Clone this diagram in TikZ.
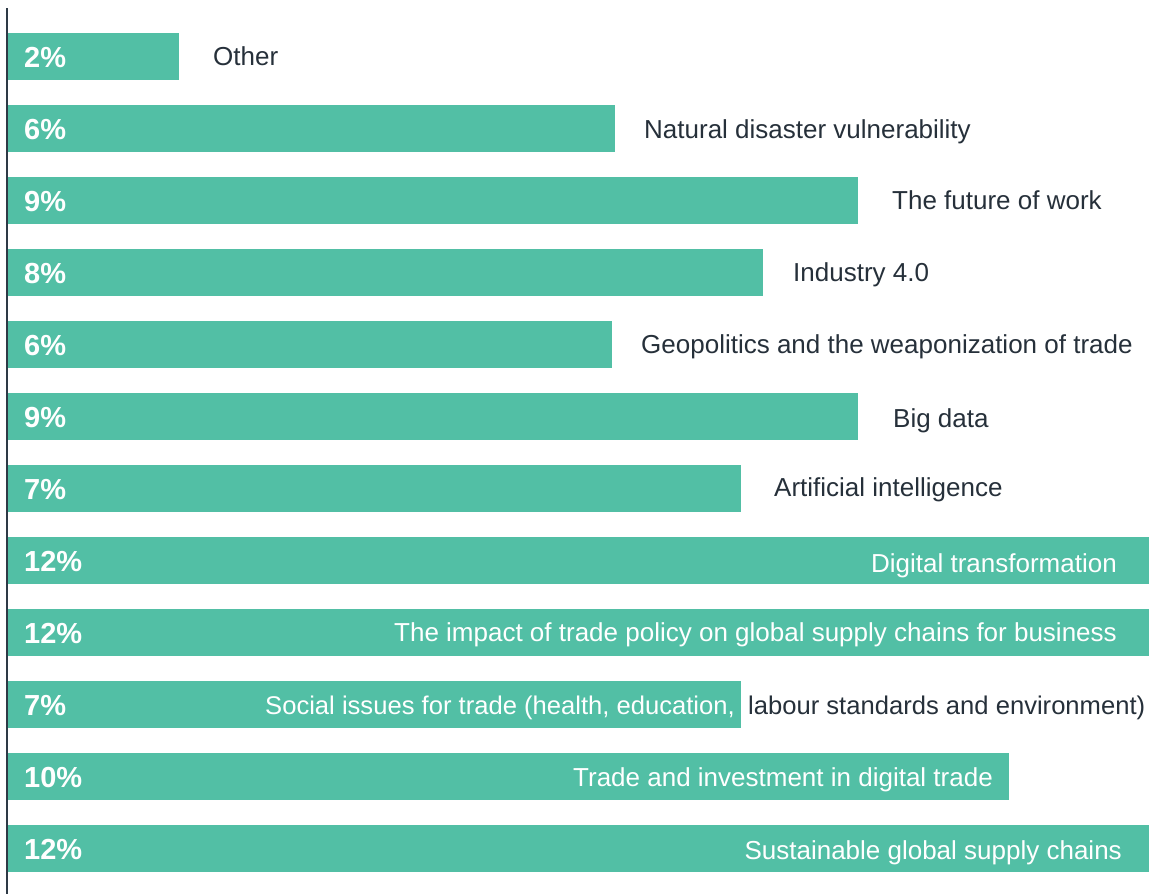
\documentclass[tikz,border=0pt]{standalone}
\usepackage{fontspec}
\setmainfont{Liberation Sans}
\definecolor{barc}{HTML}{52BFA5}
\definecolor{txt}{HTML}{26303A}
\definecolor{axisc}{HTML}{2E3A46}
\begin{document}
\begin{tikzpicture}[x=1pt,y=-1pt,
  bar/.style={fill=barc, draw=none, anchor=north west, inner sep=0pt, minimum height=47pt},
  pct/.style={anchor=base west, inner sep=0pt, text=white, font=\fontsize{29}{32}\selectfont\bfseries},
  lab/.style={anchor=base west, inner sep=0pt, text=txt, font=\fontsize{26}{30}\selectfont},
  labw/.style={anchor=base east, inner sep=0pt, text=white, font=\fontsize{26}{30}\selectfont}]
\useasboundingbox (0,0) rectangle (1151,894);
\coordinate (axtop) at (7,8);
\coordinate (axbot) at (7,894);
% bars
\foreach \i/\w in {1/171,2/607,3/850,4/755,5/604,6/850,7/733,8/1141,9/1141,10/733,11/1001,12/1141}{
  \node[bar, minimum width=\w pt] (b\i) at (8,{33+72*(\i-1)}) {};
}
\draw[axisc, line width=2pt] (axtop) -- (axbot);
% percentages
\node[pct] (q1) at (24,67) {2\%};
\node[pct] (q2) at (24,139) {6\%};
\node[pct] (q3) at (24,211) {9\%};
\node[pct] (q4) at (24,283) {8\%};
\node[pct] (q5) at (24,355) {6\%};
\node[pct] (q6) at (24,427) {9\%};
\node[pct] (q7) at (24,499) {7\%};
\node[pct] (q8) at (24,571) {12\%};
\node[pct] (q9) at (24,643) {12\%};
\node[pct] (q10) at (24,715) {7\%};
\node[pct] (q11) at (24,787) {10\%};
\node[pct] (q12) at (24,859) {12\%};
% labels
\node[lab] (l1) at (213,65) {Other};
\node[lab] (l2) at (644,138) {Natural disaster vulnerability};
\node[lab] (l3) at (892,209) {The future of work};
\node[lab] (l4) at (793,281) {Industry 4.0};
\node[lab] (l5) at (641,353) {Geopolitics and the weaponization of trade};
\node[lab] (l6) at (893,427) {Big data};
\node[lab] (l7) at (774,496) {Artificial intelligence};
\node[labw] (l8) at (1117,572) {Digital transformation};
\node[labw] (l9) at (1117,641) {The impact of trade policy on global supply chains for business};
\node[labw, font=\fontsize{25.6}{30}\selectfont] (l10a) at (735,714) {Social issues for trade (health, education,};
\node[lab, font=\fontsize{25.6}{30}\selectfont] (l10b) at (748,714) {labour standards and environment)};
\node[labw] (l11) at (993,786) {Trade and investment in digital trade};
\node[labw] (l12) at (1122,859) {Sustainable global supply chains};
\end{tikzpicture}
\end{document}
